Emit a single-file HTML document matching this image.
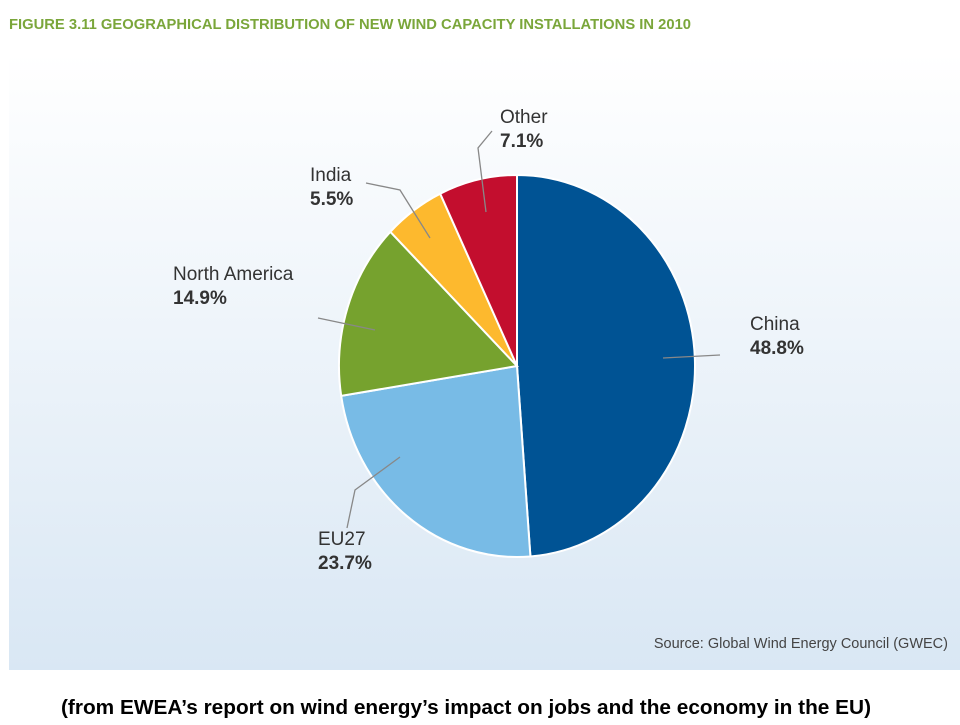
<!DOCTYPE html>
<html><head><meta charset="utf-8"><style>
body{margin:0;width:960px;height:720px;background:#fff;overflow:hidden;font-family:"Liberation Sans",sans-serif;}
</style></head><body>
<svg width="960" height="720">
<defs><linearGradient id="bg" x1="0" y1="0" x2="0" y2="1"><stop offset="0" stop-color="#ffffff"/><stop offset="1" stop-color="#d9e7f4"/></linearGradient></defs>
<text x="9" y="29" font-size="14.5" font-weight="bold" fill="#7aa63a" textLength="682" lengthAdjust="spacingAndGlyphs">FIGURE 3.11 GEOGRAPHICAL DISTRIBUTION OF NEW WIND CAPACITY INSTALLATIONS IN 2010</text>
<rect x="9" y="53" width="951" height="617" fill="url(#bg)"/>
<g id="slices"></g>
<g id="labels" font-size="19" fill="#333"></g>
<text x="948" y="648" font-size="14.5" fill="#444" text-anchor="end">Source: Global Wind Energy Council (GWEC)</text>
<text x="466" y="714" font-size="20" font-weight="bold" fill="#000" text-anchor="middle" textLength="810" lengthAdjust="spacingAndGlyphs">(from EWEA’s report on wind energy’s impact on jobs and the economy in the EU)</text>
</svg>
<script>
const categories=["China","EU27","North America","India","Other"];
const values=[48.8,23.7,14.9,5.5,7.1];
const colors=["#005394","#78bbe6","#76a22e","#fdb92e","#c30e2e"];
const cx=517,cy=366,rx=178,ry=191;
const ns="http://www.w3.org/2000/svg";
const total=values.reduce((a,b)=>a+b,0);
const g=document.getElementById('slices');
function pt(a,k){return [cx+rx*k*Math.sin(a),cy-ry*k*Math.cos(a)];}
let acc=0;
values.forEach((v,i)=>{
 const a0=acc/total*2*Math.PI;acc+=v;const a1=acc/total*2*Math.PI;
 const p0=pt(a0,1),p1=pt(a1,1);
 const p=document.createElementNS(ns,'path');
 p.setAttribute('d',`M${cx},${cy}L${p0[0]},${p0[1]}A${rx},${ry} 0 ${a1-a0>Math.PI?1:0} 1 ${p1[0]},${p1[1]}Z`);
 p.setAttribute('fill',colors[i]);p.setAttribute('stroke','#fff');p.setAttribute('stroke-width','2');
 
 
 g.appendChild(p);
});
const labelPos=[[750,330,"start"],[318,545,"start"],[173,280,"start"],[310,181,"start"],[500,123,"start"]];
const leaders=["663,358 720,355","400,457 355,490 347,528","318,318 375,330","366,183 400,190 430,238","486,212 478,148 492,131"];
const L=document.getElementById('labels');
categories.forEach((c,i)=>{
 const pl=document.createElementNS(ns,'polyline');
 pl.setAttribute('points',leaders[i]);pl.setAttribute('fill','none');pl.setAttribute('stroke','#888');pl.setAttribute('stroke-width','1.3');
 
 
 L.appendChild(pl);
 const t=document.createElementNS(ns,'text');
 t.setAttribute('x',labelPos[i][0]);t.setAttribute('y',labelPos[i][1]);
 t.textContent=c;
 
 
 L.appendChild(t);
 const t2=document.createElementNS(ns,'text');
 t2.setAttribute('x',labelPos[i][0]);t2.setAttribute('y',labelPos[i][1]+24);
 t2.setAttribute('font-weight','bold');
 t2.textContent=values[i].toFixed(1)+'%';
 
 
 L.appendChild(t2);
});
</script>
</body></html>
